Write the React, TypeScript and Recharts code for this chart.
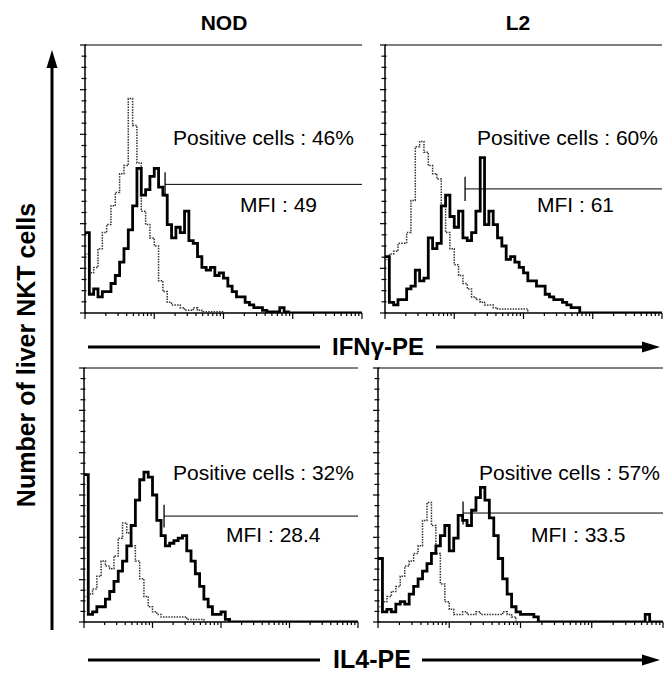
import React from 'react';
import { LineChart, Line, XAxis, YAxis, ReferenceLine } from 'recharts';

// 64 log-channels over 4 decades, counts as % of panel height
const BIN_COUNT = 64;

const nodIfnStain = [30, 7, 9, 6, 8, 8, 11, 14, 19, 24, 31, 40, 54, 44, 46, 51, 54, 47, 44, 33, 28, 32, 30, 38, 27, 26, 21, 17, 16, 17, 14, 15, 13, 10, 8, 6, 6, 4, 3, 2, 2, 1, 0.4, 0.4, 0.4, 2, 0.4, 0, 0, 0, 0, 0, 0, 0, 0, 0, 0, 0, 0, 0, 0, 0, 0, 0];
const nodIfnCtrl = [22, 15, 17, 24, 30, 33, 40, 45, 52, 55, 80, 70, 56, 38, 33, 28, 25, 12, 8, 4, 3, 3, 2, 1, 1, 2, 1, 0.5, 0.5, 0.5, 0.5, 0.5, 0, 0, 0, 0, 0, 0, 0, 0, 0, 0, 0, 0, 0, 0, 0, 0, 0, 0, 0, 0, 0, 0, 0, 0, 0, 0, 0, 0, 0, 0, 0, 0];
const l2IfnStain = [21, 4, 3, 5, 5, 9, 10, 16, 12, 13, 28, 24, 26, 40, 44, 36, 32, 38, 28, 27, 30, 38, 58, 33, 38, 33, 28, 25, 20, 21, 19, 17, 15, 12, 12, 10, 10, 7, 6, 5, 5, 4, 3, 2, 2, 0, 0, 0, 0, 0, 0, 0, 0, 0, 0, 0, 0, 0, 0, 0, 0, 0, 0, 0];
const l2IfnCtrl = [20, 22, 23, 26, 26, 30, 42, 62, 64, 60, 55, 52, 50, 40, 30, 24, 18, 14, 11, 9, 6, 5, 4, 3, 3, 2, 1.5, 1.5, 1.5, 1.5, 1.5, 1.5, 1.5, 0, 0, 0, 0, 0, 0, 0, 0, 0, 0, 0, 0, 0, 0, 0, 0, 0, 0, 0, 0, 0, 0, 0, 0, 0, 0, 0, 0, 0, 0, 0];
const nodIl4Stain = [58, 3, 4, 6, 6, 9, 12, 16, 20, 24, 30, 38, 48, 56, 59, 57, 50, 40, 34, 30, 31, 32, 33, 34, 28, 24, 19, 14, 9, 6, 3, 3, 4, 1, 0, 0, 0, 0, 0, 0, 0, 0, 0, 0, 0, 0, 0, 0, 0, 0, 0, 0, 0, 0, 0, 0, 0, 0, 0, 0, 0, 0, 0, 0];
const nodIl4Ctrl = [10, 11, 13, 18, 24, 22, 21, 26, 33, 39, 35, 30, 24, 17, 10, 6, 4, 3, 2, 2, 2, 2, 2, 2, 1, 1, 1, 1, 0, 0, 0, 0, 0, 0, 0, 0, 0, 0, 0, 0, 0, 0, 0, 0, 0, 0, 0, 0, 0, 0, 0, 0, 0, 0, 0, 0, 0, 0, 0, 0, 0, 0, 0, 0];
const l2Il4Stain = [25, 4, 5, 4, 7, 8, 7, 11, 14, 17, 20, 23, 27, 30, 34, 38, 28, 33, 42, 40, 38, 44, 49, 53, 48, 41, 34, 25, 17, 11, 6, 4, 3, 3, 3, 2, 0, 0, 0, 0, 0, 0, 0, 0, 0, 0, 0, 0, 0, 0, 0, 0, 0, 0, 0, 0, 0, 0, 0, 0, 3, 0, 0, 0];
const l2Il4Ctrl = [6, 8, 10, 12, 14, 18, 22, 24, 27, 30, 40, 47, 38, 27, 15, 8, 5, 3, 3, 4, 3, 3, 4, 3, 3, 3, 3, 3, 4, 3, 2, 0, 0, 0, 0, 0, 0, 0, 0, 0, 0, 0, 0, 0, 0, 0, 0, 0, 0, 0, 0, 0, 0, 0, 0, 0, 0, 0, 0, 0, 0, 0, 0, 0];

const columnTitles = ['NOD', 'L2'];
const positiveLabels = ['Positive cells : 46%', 'Positive cells : 60%', 'Positive cells : 32%', 'Positive cells : 57%'];
const mfiLabels = ['MFI : 49', 'MFI : 61', 'MFI : 28.4', 'MFI : 33.5'];
const gateStart = [18.5, 18.5, 18.7, 19.1];
const gateLevel = [48, 46.3, 41.7, 42.9];

// log ticks: 1..9 in each decade
const xTicks: number[] = [];
for (let d = 0; d < 4; d++) for (let m = 1; m < 10; m++) xTicks.push((d + Math.log10(m)) * 16);
xTicks.push(BIN_COUNT);
const yTicks = Array.from({ length: 25 }, (_, i) => (i * 100) / 24);

const PAD = 6; // px of room left of the y axis for its tick marks

const toRows = (stain: number[], ctrl: number[]) => {
  const rows = stain.map((v, i) => ({ bin: i, stain: v, ctrl: ctrl[i] }));
  rows.push({ bin: stain.length, stain: stain[stain.length - 1], ctrl: ctrl[ctrl.length - 1] });
  return rows;
};

const renderXTick = (props: any) => {
  const { x, y, payload } = props;
  const major = Math.abs(payload.value / 16 - Math.round(payload.value / 16)) < 1e-6;
  return <line key={`x${payload.value}`} x1={x} x2={x} y1={y} y2={y + (major ? 6 : 3)} stroke="#000" strokeWidth={1.2} />;
};

function Panel({ left, top, w, h, stain, ctrl, idx }: any) {
  const data = toRows(stain, ctrl);
  const g = gateStart[idx];
  const lv = gateLevel[idx];
  const binPx = w / BIN_COUNT;
  const x0 = -PAD / binPx;
  return (
    <div style={{ position: 'absolute', left: left - PAD, top: top - 1 }}>
      <LineChart width={w + PAD + 2} height={h + 11} data={data} margin={{ top: 1, right: 2, left: 0, bottom: 0 }}>
        <XAxis dataKey="bin" type="number" domain={[x0, BIN_COUNT]} ticks={xTicks} tick={renderXTick}
          tickLine={false} tickSize={0} tickMargin={0} height={10} interval={0} axisLine={false} allowDataOverflow />
        <YAxis type="number" domain={[0, 100]} tick={false} tickLine={false} width={0} axisLine={false} allowDataOverflow />
        <YAxis yAxisId="right" orientation="right" type="number" domain={[0, 100]} tick={false}
          tickLine={false} width={0} axisLine={{ stroke: '#000', strokeWidth: 1 }} />
        <ReferenceLine segment={[{ x: 0, y: 100 }, { x: BIN_COUNT, y: 100 }]} stroke="#000" strokeWidth={1} ifOverflow="visible" />
        <ReferenceLine segment={[{ x: 0, y: 0 }, { x: BIN_COUNT, y: 0 }]} stroke="#000" strokeWidth={1.5} ifOverflow="visible" />
        <ReferenceLine segment={[{ x: 0, y: 0 }, { x: 0, y: 100 }]} stroke="#000" strokeWidth={1.5} ifOverflow="visible" />
        {yTicks.map((v, i) => (
          <ReferenceLine key={`t${i}`} ifOverflow="visible" stroke="#000" strokeWidth={1.2}
            segment={[{ x: -(i % 4 === 0 ? 5 : 3.5) / binPx, y: v }, { x: 1.5 / binPx, y: v }]} />
        ))}
        <Line dataKey="ctrl" type="stepAfter" stroke="#333" strokeWidth={1.5} strokeDasharray="1.5 1.2"
          dot={false} isAnimationActive={false} />
        <Line dataKey="stain" type="stepAfter" stroke="#000" strokeWidth={2.8} dot={false} isAnimationActive={false} />
        <ReferenceLine segment={[{ x: g, y: lv }, { x: BIN_COUNT, y: lv }]} stroke="#000" strokeWidth={1} />
        <ReferenceLine segment={[{ x: g, y: lv - 4.5 }, { x: g, y: lv + 4.5 }]} stroke="#000" strokeWidth={1.3} />
      </LineChart>
    </div>
  );
}

const panels = [
  { left: 85, top: 45, w: 277, h: 268, stain: nodIfnStain, ctrl: nodIfnCtrl },
  { left: 385, top: 45, w: 277, h: 268, stain: l2IfnStain, ctrl: l2IfnCtrl },
  { left: 84, top: 368, w: 274, h: 254, stain: nodIl4Stain, ctrl: nodIl4Ctrl },
  { left: 378, top: 368, w: 285, h: 254, stain: l2Il4Stain, ctrl: l2Il4Ctrl },
];

const textPos = [
  { px: 173, py: 145, mx: 240, my: 212 },
  { px: 477, py: 145, mx: 537, my: 212 },
  { px: 173, py: 480, mx: 226, my: 542 },
  { px: 479, py: 480, mx: 531, my: 542 },
];

export default function App() {
  const font = "'Liberation Sans', Arial, sans-serif";
  return (
    <div style={{ position: 'absolute', left: 0, top: 0, width: 664, height: 675, background: '#fff', overflow: 'hidden' }}>
      {panels.map((p, i) => (
        <Panel key={i} idx={i} {...p} />
      ))}
      <svg width={664} height={675} style={{ position: 'absolute', left: 0, top: 0, pointerEvents: 'none' }} fontFamily={font}>
        <text x={224} y={30} textAnchor="middle" fontSize={21} fontWeight="bold">{columnTitles[0]}</text>
        <text x={518} y={30} textAnchor="middle" fontSize={21} fontWeight="bold">{columnTitles[1]}</text>
        {textPos.map((t, i) => (
          <g key={i} fontSize={21}>
            <text x={t.px} y={t.py}>{positiveLabels[i]}</text>
            <text x={t.mx} y={t.my}>{mfiLabels[i]}</text>
          </g>
        ))}
        {/* y axis arrow */}
        <line x1={52} x2={52} y1={630} y2={60} stroke="#000" strokeWidth={3} />
        <polygon points="52,50 46.5,68 57.5,68" fill="#000" />
        <text transform="translate(35,355) rotate(-90)" textAnchor="middle" fontSize={25} fontWeight="bold">
          Number of liver NKT cells
        </text>
        {/* IFNg arrow */}
        <line x1={88} x2={320} y1={347} y2={347} stroke="#000" strokeWidth={3} />
        <text x={378} y={355} textAnchor="middle" fontSize={24} fontWeight="bold">IFNγ-PE</text>
        <line x1={436} x2={648} y1={347} y2={347} stroke="#000" strokeWidth={3} />
        <polygon points="660,347 642,341.5 642,352.5" fill="#000" />
        {/* IL4 arrow */}
        <line x1={88} x2={320} y1={660} y2={660} stroke="#000" strokeWidth={3} />
        <text x={372} y={668} textAnchor="middle" fontSize={25} fontWeight="bold">IL4-PE</text>
        <line x1={422} x2={648} y1={660} y2={660} stroke="#000" strokeWidth={3} />
        <polygon points="660,660 642,654.5 642,665.5" fill="#000" />
      </svg>
    </div>
  );
}
